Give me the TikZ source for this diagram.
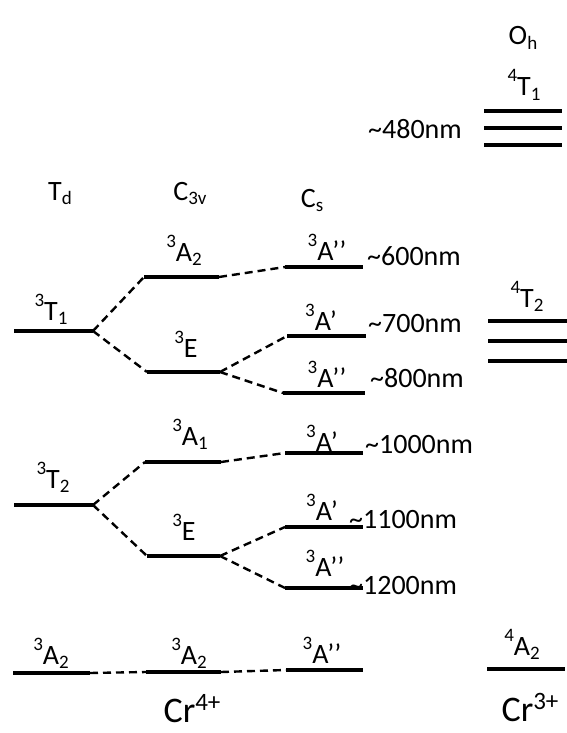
\documentclass[tikz,border=0pt]{standalone}
\usepackage{fontspec}
\setmainfont{Carlito}
\usetikzlibrary{positioning}

\newcommand{\sps}[1]{\raisebox{0.5em}{\fontsize{19}{19}\selectfont#1}}
\newcommand{\sbs}[1]{\raisebox{-0.17em}{\fontsize{19}{19}\selectfont#1}}
\newcommand{\st}[3]{\sps{#1}#2\sbs{#3}}
\newcommand{\ionsp}[1]{\raisebox{0.32em}{\fontsize{25}{25}\selectfont#1}}

\begin{document}
\begin{tikzpicture}[x=1pt,y=-1pt,
  level/.style={line width=3.2pt,draw=black},
  link/.style={line width=2.4pt,draw=black,dash pattern=on 8pt off 5pt},
  lbl/.style={font=\fontsize{28}{32}\selectfont,inner sep=0pt,anchor=base},
  wl/.style={font=\fontsize{28}{32}\selectfont,inner sep=0pt,anchor=base west},
  ion/.style={font=\fontsize{36}{40}\selectfont,inner sep=0pt,anchor=base}
]
\useasboundingbox (0,0) rectangle (567,733);

% Td levels
\coordinate (t1l) at (14,331);  \coordinate (t1r) at (93,331);
\coordinate (t2l) at (14,505);  \coordinate (t2r) at (93,505);
\coordinate (a2l) at (13,673);  \coordinate (a2r) at (90,673);
% C3v levels
\coordinate (ca2l) at (144,277); \coordinate (ca2r) at (219,277);
\coordinate (ce1l) at (147,372); \coordinate (ce1r) at (220,372);
\coordinate (ca1l) at (145,462); \coordinate (ca1r) at (221,462);
\coordinate (ce2l) at (147,556); \coordinate (ce2r) at (220,556);
\coordinate (cgl) at (146,672);  \coordinate (cgr) at (221,672);
% Cs levels
\coordinate (s6l) at (285,267);  \coordinate (s6r) at (363,267);
\coordinate (s7l) at (287,336);  \coordinate (s7r) at (366,336);
\coordinate (s8l) at (283,393);  \coordinate (s8r) at (365,393);
\coordinate (s10l) at (285,453); \coordinate (s10r) at (363,453);
\coordinate (s11l) at (285,527); \coordinate (s11r) at (363,527);
\coordinate (s12l) at (285,588); \coordinate (s12r) at (363,588);
\coordinate (sgl) at (286,670);  \coordinate (sgr) at (363,670);

\foreach \a/\b in {t1l/t1r,t2l/t2r,a2l/a2r,ca2l/ca2r,ce1l/ce1r,ca1l/ca1r,ce2l/ce2r,cgl/cgr,
  s6l/s6r,s7l/s7r,s8l/s8r,s10l/s10r,s11l/s11r,s12l/s12r,sgl/sgr}
  \draw[level] (\a) -- (\b);

% correlation lines
\foreach \a/\b in {t1r/ca2l,t1r/ce1l,ca2r/s6l,ce1r/s7l,ce1r/s8l,
  t2r/ca1l,t2r/ce2l,ca1r/s10l,ce2r/s11l,ce2r/s12l,a2r/cgl,cgr/sgl}
  \draw[link] (\a) -- (\b);

% Oh levels
\foreach \y [count=\i] in {111,128,145} {
  \coordinate (ohl\i) at (484,\y); \coordinate (ohr\i) at (562,\y);
  \draw[level] (ohl\i) -- (ohr\i);
}
\foreach \y [count=\i] in {321,341,361} {
  \coordinate (ttl\i) at (488,\y); \coordinate (ttr\i) at (567,\y);
  \draw[level] (ttl\i) -- (ttr\i);
}
\coordinate (cgl3) at (487,669); \coordinate (cgr3) at (565,669);
\draw[level] (cgl3) -- (cgr3);

% headers
\node[lbl] (td) at (60,200) {T\sbs{d}};
\node[lbl] (c3v) at (190,200) {C\sbs{3v}};
\node[lbl] (cs) at (312,207) {C\sbs{s}};
\node[lbl] (oh) at (523,45) {O\sbs{h}};

% labels
\node[lbl] (lt1) at (51,320) {\st{3}{T}{1}};
\node[lbl] (lt2) at (53,488) {\st{3}{T}{2}};
\node[lbl] (la2) at (51,664) {\st{3}{A}{2}};
\node[lbl] (lca2) at (184,261) {\st{3}{A}{2}};
\node[lbl] (lce1) at (186,357) {\sps{3}E};
\node[lbl] (lca1) at (190,445) {\st{3}{A}{1}};
\node[lbl] (lce2) at (184,540) {\sps{3}E};
\node[lbl] (lcg) at (189,664) {\st{3}{A}{2}};
\node[lbl] (ls6) at (327,260) {\sps{3}A’’};
\node[lbl] (ls7) at (321,330) {\sps{3}A’};
\node[lbl] (ls8) at (327,387) {\sps{3}A’’};
\node[lbl] (ls10) at (322,451) {\sps{3}A’};
\node[lbl] (ls11) at (322,520) {\sps{3}A’};
\node[lbl] (ls12) at (325,576) {\sps{3}A’’};
\node[lbl] (lsg) at (322,663) {\sps{3}A’’};
\node[lbl] (lt41) at (524,96) {\st{4}{T}{1}};
\node[lbl] (lt42) at (527,307) {\st{4}{T}{2}};
\node[lbl] (la42) at (522,655) {\st{4}{A}{2}};

% wavelengths
\node[wl] (w480) at (368,139) {\textasciitilde480nm};
\node[wl] (w600) at (367,265) {\textasciitilde600nm};
\node[wl] (w700) at (368,332) {\textasciitilde700nm};
\node[wl] (w800) at (370,387) {\textasciitilde800nm};
\node[wl] (w1000) at (365,453) {\textasciitilde1000nm};
\node[wl] (w1100) at (349,528) {\textasciitilde1100nm};
\node[wl] (w1200) at (349,594) {\textasciitilde1200nm};

% ions
\node[ion] (cr4) at (192,722) {Cr\ionsp{4+}};
\node[ion] (cr3) at (530,721) {Cr\ionsp{3+}};
\end{tikzpicture}
\end{document}
